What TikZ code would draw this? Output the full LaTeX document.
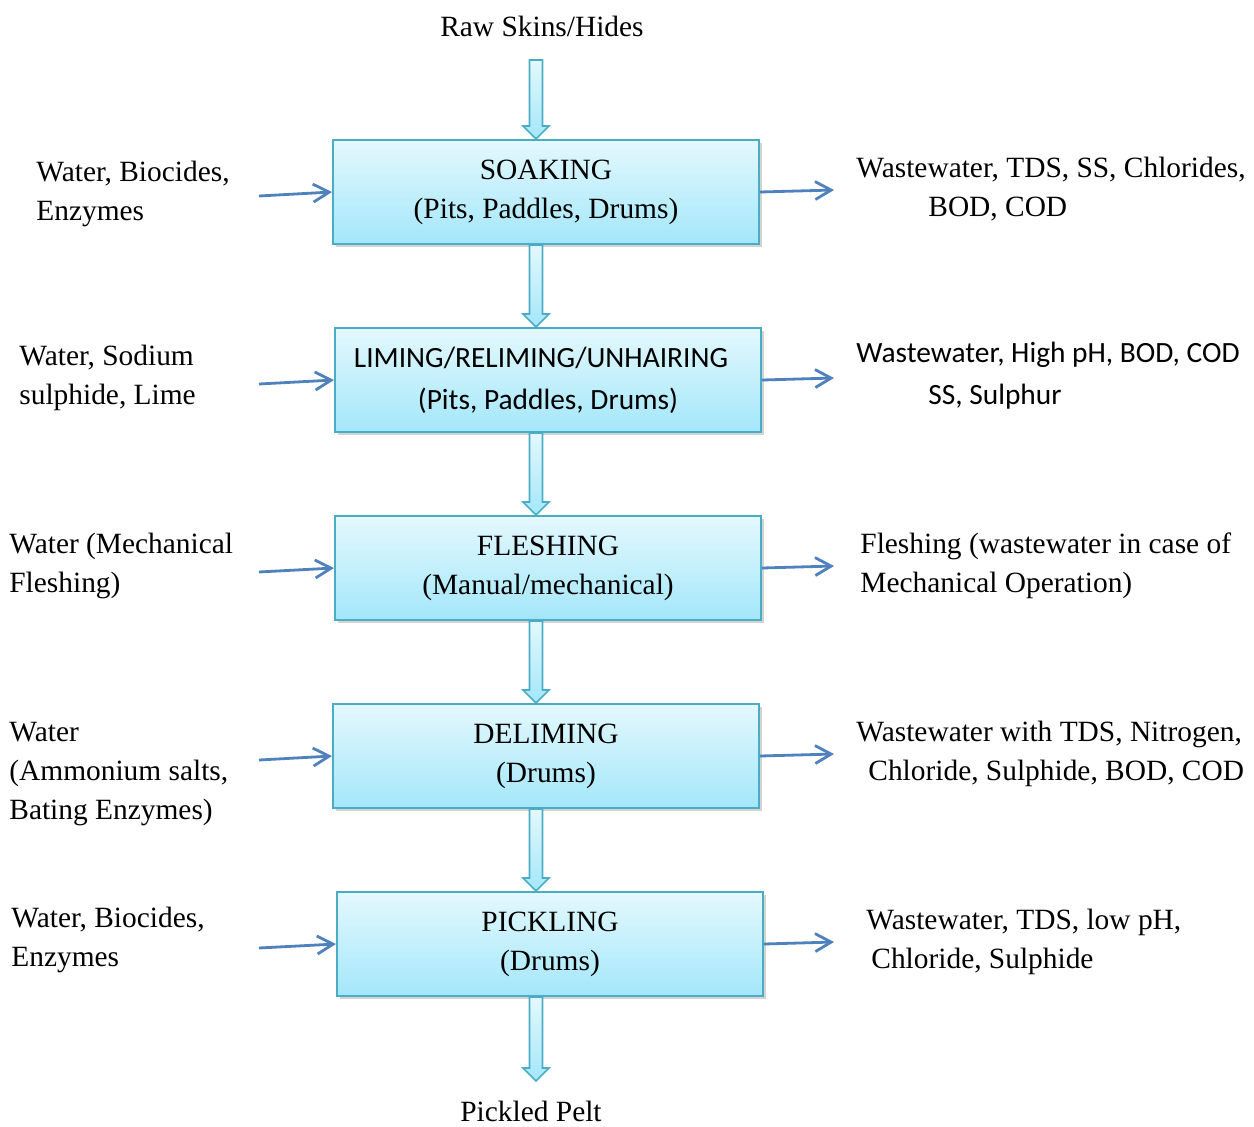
\documentclass[tikz,border=0pt]{standalone}
\usepackage{fontspec}
\setmainfont{Liberation Serif}
\newfontfamily\calibri{Carlito}
\usepackage{tikz}
\usetikzlibrary{arrows.meta}
\usetikzlibrary{calc, shadows}
\definecolor{boxline}{HTML}{4BACC6}
\definecolor{boxtop}{HTML}{E4F8FD}
\definecolor{boxbottom}{HTML}{A3E7FA}
\definecolor{feedblue}{HTML}{4F81BD}

\begin{document}
\begin{tikzpicture}[x=0.5pt, y=-0.5pt,
        every node/.style={font=\fontsize{14.7}{19.5}\selectfont, inner sep=0pt},
        stage/.style={draw=boxline, line width=1pt, top color=boxtop, bottom color=boxbottom,
            minimum width=213pt, minimum height=52pt, align=center,
            drop shadow={shadow xshift=1.5pt, shadow yshift=-1.5pt, opacity=0.35}},
        side/.style={anchor=west, align=left},
        feed/.style={draw=feedblue, line width=1.4pt, -{Straight Barb[length=8pt, width=9pt, line width=1.4pt]}},
        pipe/.style={draw=boxline, line width=0.8pt, top color=boxtop, bottom color=boxbottom}]
    \useasboundingbox (0,0) rectangle (1254,1126);
    % 工序方框
    \node [stage] (soak) at (546,192) {SOAKING\\(Pits, Paddles, Drums)};
    \node [stage, font=\calibri\fontsize{14.7}{21}\selectfont] (lime) at (548,380) {LIMING/RELIMING/UNHAIRING\hspace*{7pt}\\(Pits, Paddles, Drums)};
    \node [stage] (flesh) at (548,568) {FLESHING\\(Manual/mechanical)};
    \node [stage] (delime) at (546,756) {DELIMING\\(Drums)};
    \node [stage] (pickle) at (550,944) {PICKLING\\(Drums)};

    \node (raw) at (542,26) {Raw Skins/Hides};
    \node (pelt) at (531,1111) {Pickled Pelt};
    \coordinate (axis) at (536,0);
    \coordinate (rawtop) at (536,60);
    \coordinate (peltend) at (536,1081);

    % 主流程的空心箭头
    \foreach \s/\e in {rawtop/soak.north, soak.south/lime.north, lime.south/flesh.north,
            flesh.south/delime.north, delime.south/pickle.north, pickle.south/peltend} {
        \coordinate (s) at (\s -| axis);
        \coordinate (e) at (\e -| axis);
        \path [pipe] ($(s)+(-6.5,0)$) -- ($(e)+(-6.5,-13)$) -- ($(e)+(-13,-13)$) -- (e)
            -- ($(e)+(13,-13)$) -- ($(e)+(6.5,-13)$) -- ($(s)+(6.5,0)$) -- cycle;
    }

    % 左侧投入
    \node [side] (in1) at (36,194) {Water, Biocides,\\Enzymes};
    \node [side] (in2) at (19,378) {Water, Sodium\\sulphide, Lime};
    \node [side] (in3) at (9,566) {Water (Mechanical\\Fleshing)};
    \node [side] (in4) at (9,774) {Water\\(Ammonium salts,\\Bating Enzymes)};
    \node [side] (in5) at (11,940) {Water, Biocides,\\Enzymes};

    % 右侧排放
    \node [side] (out1) at (856,189) {Wastewater, TDS, SS, Chlorides,\\\hspace*{36pt}BOD, COD};
    \node [side, font=\calibri\fontsize{14.7}{21}\selectfont] (out2) at (856,376) {Wastewater, High pH, BOD, COD\\\hspace*{36pt}SS, Sulphur};
    \node [side] (out3) at (860,566) {Fleshing (wastewater in case of\\Mechanical Operation)};
    \node [side] (out4) at (856,754) {Wastewater with TDS, Nitrogen,\\\hspace*{6pt}Chloride, Sulphide, BOD, COD};
    \node [side] (out5) at (866,942) {Wastewater, TDS, low pH,\\\hspace*{2.5pt}Chloride, Sulphide};

    % 细箭头
    \foreach \n/\y in {1/196, 2/384, 3/572, 4/760, 5/948} {
        \coordinate (a\n) at (259,\y);
        \coordinate (b\n) at (834,\y-6);
    }
    \draw [feed] (a1) -- (soak.west);
    \draw [feed] (a2) -- (lime.west);
    \draw [feed] (a3) -- (flesh.west);
    \draw [feed] (a4) -- (delime.west);
    \draw [feed] (a5) -- (pickle.west);
    \draw [feed] (soak.east) -- (b1);
    \draw [feed] (lime.east) -- (b2);
    \draw [feed] (flesh.east) -- (b3);
    \draw [feed] (delime.east) -- (b4);
    \draw [feed] (pickle.east) -- (b5);
\end{tikzpicture}
\end{document}
